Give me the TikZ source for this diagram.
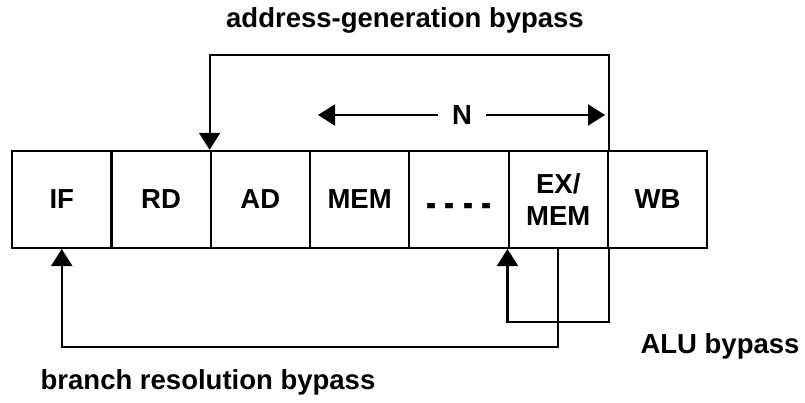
\documentclass[tikz,border=0pt]{standalone}
\usepackage{fontspec}
\setmainfont{Liberation Sans}
\usetikzlibrary{arrows.meta}
\begin{document}
\begin{tikzpicture}[x=1pt,y=1pt,
  stage/.style={draw, line width=2.2pt, minimum width=99.3pt, minimum height=97pt,
    inner sep=0pt, anchor=south west, font=\fontsize{27.5}{33}\selectfont\bfseries, align=center},
  conn/.style={line width=2.2pt},
  arr/.style={conn, -{Triangle[length=17pt,width=21pt]}},
  lbl/.style={font=\fontsize{27.5}{33}\selectfont\bfseries, inner sep=0pt}]
\useasboundingbox (0,0) rectangle (805,402);
\node[stage] (IF)  at (11,153) {IF};
\node[stage] (RD)  at (110.3,153) {RD};
\node[stage] (AD)  at (209.6,153) {AD};
\node[stage] (MEM) at (308.9,153) {MEM};
\node[stage] (DOTS) at (408.2,153) {\raisebox{-18pt}[0pt][0pt]{\scalebox{1.1}[1.6]{- - - -}}};
\node[stage] (EXM) at (507.5,153) {EX/\\[-1pt]MEM};
\node[stage] (WB)  at (606.8,153) {WB};
% address-generation bypass
\coordinate (agtop) at (0,347);
\draw[arr] (EXM.north east) -- (EXM.north east |- agtop) -| (AD.north west);
\node[lbl] (agl) at (405,382) {address-generation bypass};
% N arrows
\node[lbl] (N) at (462,287) {N};
\coordinate (nl) at (318,287);
\coordinate (nr) at (605,287);
\draw[arr, shorten <=14pt] (N.west) -- (nl);
\draw[arr, shorten <=14pt] (N.east) -- (nr);
% ALU bypass
\coordinate (alubot) at (0,80);
\draw[arr] (EXM.south east) -- (EXM.south east |- alubot) -| (EXM.south west);
\node[lbl] (alul) at (720,56) {ALU bypass};
% branch resolution bypass
\coordinate (brbot) at (0,55);
\draw[arr] (EXM.south) -- (EXM.south |- brbot) -| (IF.south);
\node[lbl] (brl) at (208,20) {branch resolution bypass};
\end{tikzpicture}
\end{document}
